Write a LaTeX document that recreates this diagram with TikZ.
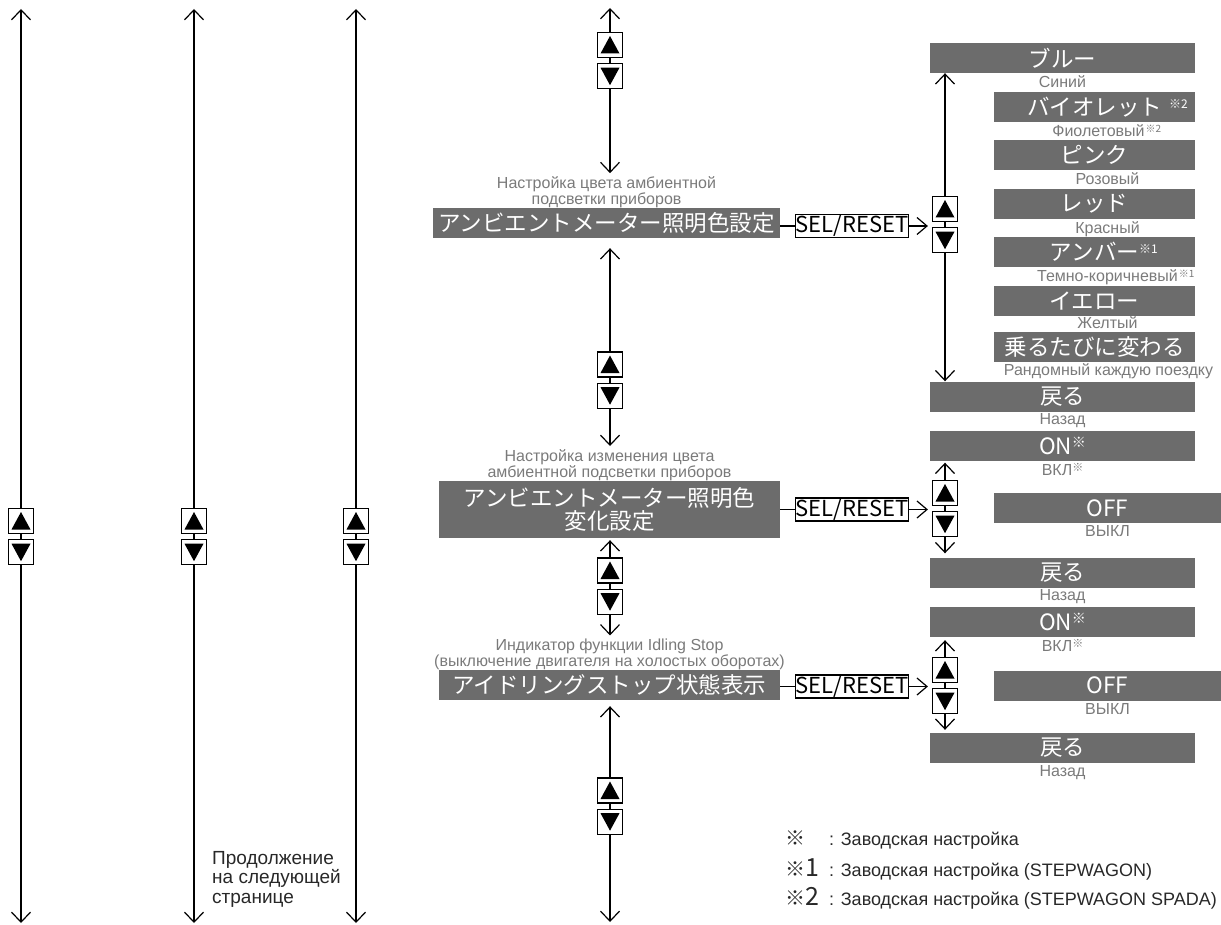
\documentclass[tikz,border=0pt]{standalone}
\usepackage{fontspec}
\setmainfont{Liberation Sans}
\newfontfamily\jpfont{Noto Sans CJK JP}
\usepackage{xcolor}
\usetikzlibrary{arrows.meta, positioning}

\definecolor{menugray}{RGB}{108,108,108}
\definecolor{labelgray}{RGB}{122,122,122}
\definecolor{notetext}{RGB}{40,40,40}

\begin{document}
\begin{tikzpicture}[x=1pt, y=-1pt,
        menu/.style={fill=menugray, text=white, inner sep=0pt, minimum height=30pt, align=center, font=\jpfont\fontsize{22.5}{23.5}\selectfont},
        lab/.style={text=labelgray, inner sep=0.5pt, align=center, font=\fontsize{16}{14}\selectfont},
        selbox/.style={draw, line width=1.2pt, fill=white, inner sep=0pt, minimum width=113pt, minimum height=23pt, font=\jpfont\fontsize{22}{22}\selectfont},
        btn/.style={draw, fill=white, line width=1.2pt, minimum width=25pt, minimum height=25pt, inner sep=0pt},
        upbtn/.style={btn, path picture={\fill[black] ([shift={(3pt,4pt)}]path picture bounding box.south west) -- ([shift={(-3pt,4pt)}]path picture bounding box.south east) -- ([yshift=-3.5pt]path picture bounding box.north) -- cycle;}},
        dnbtn/.style={btn, path picture={\fill[black] ([shift={(3pt,-4pt)}]path picture bounding box.north west) -- ([shift={(-3pt,-4pt)}]path picture bounding box.north east) -- ([yshift=3.5pt]path picture bounding box.south) -- cycle;}},
        arrow/.style={line width=1.2pt, {Straight Barb[length=10pt,width=19pt]}-{Straight Barb[length=10pt,width=19pt]}},
        onearrow/.style={line width=1.2pt, -{Straight Barb[length=10pt,width=17pt]}},
        link/.style={line width=1.2pt},
        footnote/.style={text=notetext, inner sep=0pt, anchor=west, font=\fontsize{18}{18}\selectfont}
    ]
        \useasboundingbox (0,0) rectangle (1221,925);

        % Left columns
        \coordinate (ltop1) at (21,9);
        \coordinate (lbot1) at (21,923);
        \coordinate (ltop2) at (194,9);
        \coordinate (lbot2) at (194,923);
        \coordinate (ltop3) at (356,9);
        \coordinate (lbot3) at (356,923);
        \draw[arrow] (ltop1) -- (lbot1);
        \draw[arrow] (ltop2) -- (lbot2);
        \draw[arrow] (ltop3) -- (lbot3);
        \node[upbtn] (lu1) at (21,521) {};
        \node[dnbtn, below=5pt of lu1] (ld1) {};
        \node[upbtn] (lu2) at (194,521) {};
        \node[dnbtn, below=5pt of lu2] (ld2) {};
        \node[upbtn] (lu3) at (356,521) {};
        \node[dnbtn, below=5pt of lu3] (ld3) {};

        \node[anchor=north west, align=left, inner sep=0pt, text=notetext, font=\fontsize{19}{19.5}\selectfont] (contd) at (212,851) {Продолжение\\на следующей\\странице};

        % Main menu
        \node[menu, minimum width=347pt] (ambset) at (606.5,223) {アンビエントメーター照明色設定};
        \node[lab, above=-1pt of ambset] (ambsetlab) {Настройка цвета амбиентной\\подсветки приборов};
        \node[menu, minimum width=341pt, minimum height=57pt] (ambchg) at (609.5,509.5) {アンビエントメーター照明色\\変化設定};
        \node[lab, above=-1pt of ambchg] (ambchglab) {Настройка изменения цвета\\амбиентной подсветки приборов};
        \node[menu, minimum width=341pt] (idling) at (609.5,685) {アイドリングストップ状態表示};
        \node[lab, above=-1pt of idling] (idlinglab) {Индикатор функции Idling Stop\\(выключение двигателя на холостых оборотах)};

        \coordinate (mtop) at (610,8);
        \coordinate (mbot) at (610,922);
        \draw[arrow, shorten >=3pt] (mtop) -- (mtop |- ambsetlab.north);
        \draw[arrow, shorten <=10pt, shorten >=3pt] (mtop |- ambset.south) -- (mtop |- ambchglab.north);
        \draw[arrow, shorten <=2pt, shorten >=3pt] (mtop |- ambchg.south) -- (mtop |- idlinglab.north);
        \draw[arrow, shorten <=6pt] (mtop |- idling.south) -- (mbot);
        \node[upbtn] (mu1) at (610,45) {};
        \node[dnbtn, below=5pt of mu1] (md1) {};
        \node[upbtn] (mu2) at (610,364.5) {};
        \node[dnbtn, below=5pt of mu2] (md2) {};
        \node[upbtn] (mu3) at (610,570.5) {};
        \node[dnbtn, below=5pt of mu3] (md3) {};
        \node[upbtn] (mu4) at (610,790.5) {};
        \node[dnbtn, below=5pt of mu4] (md4) {};

        % Colour list
        \node[menu, minimum width=265pt] (blue) at (1062.5,58) {ブルー};
        \node[lab, below=2pt of blue] (bluelab) {Синий};
        \node[menu, minimum width=201pt] (violet) at (1094.5,107) {バイオレット\rlap{\hspace{7pt}\raisebox{7pt}{\fontsize{12}{12}\selectfont ※2}}};
        \node[lab, below=1.5pt of violet, xshift=4pt] (violetlab) {Фиолетовый\rlap{\hspace{1pt}\raisebox{4pt}{\jpfont\fontsize{10}{10}\selectfont ※2}}};
        \node[menu, minimum width=201pt] (pink) at (1094.5,155) {ピンク};
        \node[lab, below=1.5pt of pink, xshift=13pt] (pinklab) {Розовый};
        \node[menu, minimum width=201pt] (red) at (1094.5,204) {レッド};
        \node[lab, below=1.5pt of red, xshift=13pt] (redlab) {Красный};
        \node[menu, minimum width=201pt] (amber) at (1094.5,252) {アンバー\rlap{\raisebox{7pt}{\fontsize{12}{12}\selectfont ※1}}};
        \node[lab, below=1.5pt of amber, xshift=13pt] (amberlab) {Темно-коричневый\rlap{\hspace{1pt}\raisebox{4pt}{\jpfont\fontsize{10}{10}\selectfont ※1}}};
        \node[menu, minimum width=201pt] (yellow) at (1094.5,301) {イエロー};
        \node[lab, below=0pt of yellow, xshift=13pt] (yellowlab) {Желтый};
        \node[menu, minimum width=201pt] (random) at (1094.5,347) {乗るたびに変わる};
        \node[lab, below=1pt of random, xshift=14pt] (randomlab) {Рандомный каждую поездку};
        \node[menu, minimum width=265pt] (back1) at (1062.5,396.5) {戻る};
        \node[lab, below=1.5pt of back1] (back1lab) {Назад};

        % ON / OFF lists
        \node[menu, minimum width=265pt] (on1) at (1062.5,445.5) {ON\raisebox{7pt}{\fontsize{14}{14}\selectfont ※}};
        \node[lab, below=1.5pt of on1] (on1lab) {ВКЛ\raisebox{4pt}{\jpfont\fontsize{11}{11}\selectfont ※}};
        \node[menu, minimum width=227pt] (off1) at (1107.5,508) {OFF};
        \node[lab, below=2pt of off1] (off1lab) {ВЫКЛ};
        \node[menu, minimum width=265pt] (back2) at (1062.5,572.5) {戻る};
        \node[lab, below=1pt of back2] (back2lab) {Назад};
        \node[menu, minimum width=265pt] (on2) at (1062.5,622) {ON\raisebox{7pt}{\fontsize{14}{14}\selectfont ※}};
        \node[lab, below=1.5pt of on2] (on2lab) {ВКЛ\raisebox{4pt}{\jpfont\fontsize{11}{11}\selectfont ※}};
        \node[menu, minimum width=227pt] (off2) at (1107.5,685.5) {OFF};
        \node[lab, below=2pt of off2] (off2lab) {ВЫКЛ};
        \node[menu, minimum width=265pt] (back3) at (1062.5,748) {戻る};
        \node[lab, below=1.5pt of back3] (back3lab) {Назад};

        \coordinate (rcol) at (945,0);
        \draw[arrow] (rcol |- blue.south) -- (rcol |- back1.north);
        \draw[arrow, shorten <=2pt, shorten >=4pt] (rcol |- on1.south) -- (rcol |- back2.north);
        \draw[arrow, shorten <=3pt, shorten >=3pt] (rcol |- on2.south) -- (rcol |- back3.north);
        \node[upbtn] (ru1) at (945,209) {};
        \node[dnbtn, below=5pt of ru1] (rd1) {};
        \node[upbtn] (ru2) at (945,493) {};
        \node[dnbtn, below=5pt of ru2] (rd2) {};
        \node[upbtn] (ru3) at (945,670) {};
        \node[dnbtn, below=5pt of ru3] (rd3) {};

        % SEL/RESET
        \node[selbox] (sel1) at (852,226) {SEL/RESET};
        \node[selbox] (sel2) at (852,509.5) {SEL/RESET};
        \node[selbox] (sel3) at (852,686.5) {SEL/RESET};
        \draw[link] (ambset.east |- sel1) -- (sel1);
        \draw[link] (ambchg.east |- sel2) -- (sel2);
        \draw[link] (idling.east |- sel3) -- (sel3);
        \draw[onearrow, shorten >=4pt] (sel1) -- (sel1 -| ru1.west);
        \draw[onearrow, shorten >=4pt] (sel2) -- (sel2 -| ru2.west);
        \draw[onearrow, shorten >=4pt] (sel3) -- (sel3 -| ru3.west);

        % Footnotes
        \node[footnote] (fn0) at (785,840) {\makebox[44pt][l]{\jpfont\fontsize{20}{20}\selectfont ※}: Заводская настройка};
        \node[footnote] (fn1) at (785,869) {\makebox[44pt][l]{\jpfont\fontsize{20}{20}\selectfont ※\fontsize{25}{25}\selectfont 1}: Заводская настройка (STEPWAGON)};
        \node[footnote] (fn2) at (785,898) {\makebox[44pt][l]{\jpfont\fontsize{20}{20}\selectfont ※\fontsize{25}{25}\selectfont 2}: Заводская настройка (STEPWAGON SPADA)};
    \end{tikzpicture}
\end{document}
